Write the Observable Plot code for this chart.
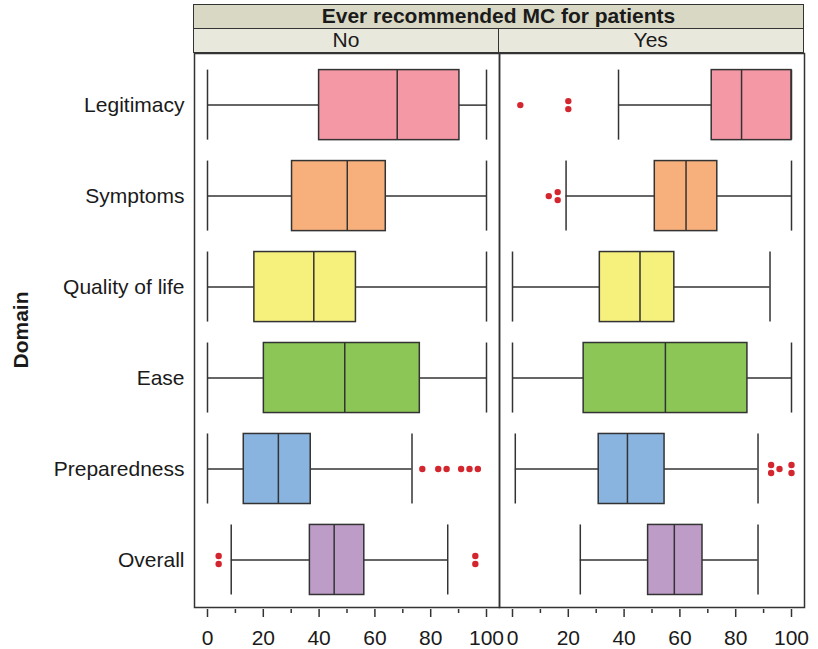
<!DOCTYPE html>
<html>
<head>
<meta charset="utf-8">
<script src="https://cdn.jsdelivr.net/npm/d3@7"></script>
<script src="https://cdn.jsdelivr.net/npm/@observablehq/plot@0.6"></script>
<style>
  html, body { margin: 0; padding: 0; background: #fff; }
  #wrap { position: relative; width: 818px; height: 649px; font-family: "Liberation Sans", Arial, sans-serif; color: #1a1a1a; }
  .strip { position: absolute; box-sizing: border-box; border: 1.5px solid #333; text-align: center; font-size: 21px; }
  #title { left: 193px; top: 4px; width: 611px; height: 25px; background: #d9d8c4; font-weight: bold; line-height: 22px; }
  .sub { top: 28px; height: 25px; background: #e9e8dc; line-height: 22px; }
  #domainLabel { position: absolute; left: 21px; top: 330px; transform: translate(-50%, -50%) rotate(-90deg); font-weight: bold; font-size: 21px; white-space: nowrap; }
  #chart { position: absolute; left: 0; top: 0; }
</style>
</head>
<body>
<div id="wrap">
  <div id="chart"></div>
  <div class="strip" id="title">Ever recommended MC for patients</div>
  <div class="strip sub" id="subNo" style="left:193px;width:306px;">No</div>
  <div class="strip sub" id="subYes" style="left:497.5px;width:306.5px;">Yes</div>
  <div id="domainLabel">Domain</div>
</div>
<script>
// ---- Data ----
const domains = ["Legitimacy", "Symptoms", "Quality of life", "Ease", "Preparedness", "Overall"];
const groups = ["No", "Yes"];
const domainColors = ["#f598a6", "#f7b07b", "#f6f07d", "#8bc656", "#8ab4e0", "#be9cc8"];

const noLow  = [0, 0, 0, 0, 0, 8.5];
const noQ1   = [40, 30.3, 16.8, 20.2, 13, 36.7];
const noMed  = [68, 50.1, 38.1, 49.2, 25.4, 45.4];
const noQ3   = [90.3, 63.9, 53.2, 76.1, 37, 56.2];
const noHigh = [100, 100, 100, 100, 73.3, 86.1];

const yesLow  = [38, 19.2, 0, 0, 1, 24.3];
const yesQ1   = [71.4, 51, 31.3, 25.5, 30.9, 48.6];
const yesMed  = [82.1, 62.2, 45.7, 54.8, 41.2, 58];
const yesQ3   = [100, 73.4, 58, 84.2, 54.5, 68.1];
const yesHigh = [100, 100, 92.3, 100, 88, 88];

// outliers: group, domain, value, number of coincident points
const outGroup  = ["No", "No", "No", "No", "No", "No", "No", "No", "Yes", "Yes", "Yes", "Yes", "Yes", "Yes", "Yes"];
const outDomain = ["Preparedness", "Preparedness", "Preparedness", "Preparedness", "Preparedness", "Preparedness", "Overall", "Overall",
                   "Legitimacy", "Legitimacy", "Symptoms", "Symptoms", "Preparedness", "Preparedness", "Preparedness"];
const outValue  = [77, 82.7, 85.7, 90.9, 93.9, 96.9, 4, 96, 2.8, 20, 13, 16.2, 92.7, 95.7, 100];
const outCount  = [1, 1, 1, 1, 1, 1, 2, 2, 1, 2, 1, 2, 2, 1, 2];

const majorTicks = [0, 20, 40, 60, 80, 100];
const minorTicks = [10, 30, 50, 70, 90];

// ---- Build tables ----
const stats = [];
domains.forEach((d, i) => {
  stats.push({group: "No", domain: d, low: noLow[i], q1: noQ1[i], med: noMed[i], q3: noQ3[i], high: noHigh[i]});
  stats.push({group: "Yes", domain: d, low: yesLow[i], q1: yesQ1[i], med: yesMed[i], q3: yesQ3[i], high: yesHigh[i]});
});
const outliers = outValue.map((v, i) => ({group: outGroup[i], domain: outDomain[i], value: v, n: outCount[i]}));
const single = outliers.filter(d => d.n === 1);
const paired = outliers.filter(d => d.n === 2);

const ink = "#333";
const dotColor = "#d3262e";

const chart = Plot.plot({
  width: 818,
  height: 649,
  marginLeft: 193,
  marginRight: 14,
  marginTop: 53,
  marginBottom: 42,
  style: {fontFamily: "'Liberation Sans', Arial, sans-serif", fontSize: "21px", color: "#1a1a1a", background: "transparent"},
  fx: {domain: groups, padding: 0, axis: null, label: null},
  x: {domain: [0, 100], insetLeft: 13, insetRight: 13, axis: null},
  y: {domain: domains, paddingInner: 0.23, paddingOuter: 0.16, align: 0.57, round: false, axis: null},
  color: {domain: domains, range: domainColors},
  marks: [
    Plot.axisY({tickSize: 0, tickPadding: 10, fontSize: 21, label: null}),
    Plot.axisX({ticks: majorTicks, tickSize: 8, tickPadding: 13, fontSize: 21, label: null, dy: 2, stroke: ink, strokeWidth: 1.5}),
    Plot.axisX({ticks: minorTicks, tickSize: 4, tickFormat: () => "", label: null, dy: 2, stroke: ink, strokeWidth: 1.5}),
    Plot.ruleY(stats, {fx: "group", y: "domain", x1: "low", x2: "q1", stroke: ink, strokeWidth: 1.5}),
    Plot.ruleY(stats, {fx: "group", y: "domain", x1: "q3", x2: "high", stroke: ink, strokeWidth: 1.5}),
    Plot.barX(stats, {fx: "group", y: "domain", x1: "q1", x2: "q3", fill: "domain", stroke: ink, strokeWidth: 1.5}),
    Plot.tickX(stats, {fx: "group", y: "domain", x: "med", stroke: ink, strokeWidth: 1.5}),
    Plot.tickX(stats, {fx: "group", y: "domain", x: "low", stroke: ink, strokeWidth: 1.5}),
    Plot.tickX(stats, {fx: "group", y: "domain", x: "high", stroke: ink, strokeWidth: 1.5}),
    Plot.dot(single, {fx: "group", y: "domain", x: "value", r: 3.2, fill: dotColor}),
    Plot.dot(paired, {fx: "group", y: "domain", x: "value", r: 3.2, fill: dotColor, dy: -4}),
    Plot.dot(paired, {fx: "group", y: "domain", x: "value", r: 3.2, fill: dotColor, dy: 4}),
    Plot.frame({stroke: ink, strokeWidth: 1.5})
  ]
});
document.getElementById("chart").appendChild(chart);
</script>
</body>
</html>
